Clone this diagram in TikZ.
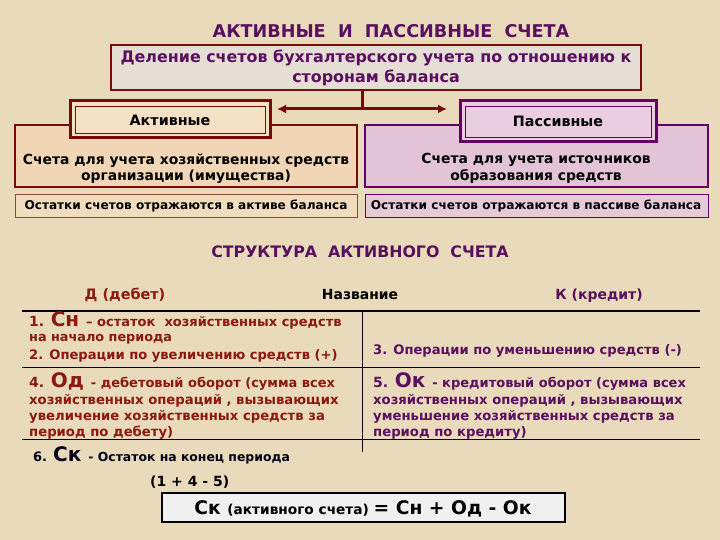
\documentclass[tikz,border=0pt]{standalone}
\usepackage{fontspec}
\setmainfont{DejaVu Sans}
\usetikzlibrary{arrows.meta}
\definecolor{bg}{RGB}{232,218,186}
\definecolor{dred}{RGB}{120,10,10}
\definecolor{tred}{RGB}{140,25,15}
\definecolor{dpurp}{RGB}{100,0,100}
\definecolor{tpurp}{RGB}{90,15,95}
\definecolor{topfill}{RGB}{228,222,212}
\definecolor{lfill}{RGB}{240,214,180}
\definecolor{lfill2}{RGB}{244,224,196}
\definecolor{rfill}{RGB}{226,196,214}
\definecolor{rfill2}{RGB}{234,206,224}
\definecolor{lbot}{RGB}{242,220,190}
\definecolor{rbot}{RGB}{230,202,216}
\definecolor{brn}{RGB}{130,80,50}
\newcommand{\myfs}[1]{\fontsize{#1}{#1}\selectfont\bfseries}
\tikzset{
  lbl/.style={inner sep=0pt, anchor=base},
  lw/.style={inner sep=0pt, anchor=base west},
  rule/.style={line width=1pt, black},
}
\begin{document}
\begin{tikzpicture}[x=1pt,y=-1pt]
\useasboundingbox (0,0) rectangle (720,540);
\fill[bg] (0,0) rectangle (720,540);

% title
\node[lbl, text=tpurp, font=\myfs{17.6}] (title) at (391,38) {АКТИВНЫЕ\ \ И\ \ ПАССИВНЫЕ\ \ СЧЕТА};

% top box
\draw[dred, line width=2pt, fill=topfill] (111,45) rectangle (641,90);
\node[lbl, text=tpurp, font=\myfs{15.9}] (top1) at (376,63) {Деление счетов бухгалтерского учета по отношению к};
\node[lbl, text=tpurp, font=\myfs{15.9}] (top2) at (376,83) {сторонам баланса};
\coordinate (topS) at (362,90);
\coordinate (arrM) at (362,109);
\coordinate (arrL) at (277,109);
\coordinate (arrR) at (447,109);
\draw[dred, line width=3pt] (topS) -- (arrM);
\draw[dred, line width=3pt, {Latex[length=9pt,width=9pt]}-{Latex[length=9pt,width=9pt]}] (arrL) -- (arrR);

% left big box
\draw[dred, line width=2pt, fill=lfill] (15,125) rectangle (357,187);
\node[lbl, text=black, font=\myfs{13.9}] (l1) at (186,165) {Счета для учета хозяйственных средств};
\node[lbl, text=black, font=\myfs{13.9}] (l2) at (186,181) {организации (имущества)};
% Активные
\draw[dred, line width=3pt, fill=lfill2] (70,101) rectangle (270,138);
\draw[dred, line width=0.8pt] (75,106) rectangle (265,133);
\node[lbl, text=black, font=\myfs{14.3}] (akt) at (170,126) {Активные};
% left bottom
\draw[brn, line width=0.8pt, fill=lbot] (15,194) rectangle (357,217);
\node[lbl, text=black, font=\myfs{12.1}] (lb) at (186,210) {Остатки счетов отражаются в активе баланса};

% right big box
\draw[dpurp, line width=2pt, fill=rfill] (365,125) rectangle (708,187);
\node[lbl, text=black, font=\myfs{13.9}] (r1) at (536,164) {Счета для учета источников};
\node[lbl, text=black, font=\myfs{13.9}] (r2) at (536,181) {образования средств};
% Пассивные
\draw[dpurp, line width=3pt, fill=rfill2] (460,101) rectangle (656,142);
\draw[dpurp, line width=0.8pt] (465,106) rectangle (651,137);
\node[lbl, text=black, font=\myfs{14.3}] (pas) at (558,127) {Пассивные};
% right bottom
\draw[dpurp, line width=0.8pt, fill=rbot] (365,194) rectangle (708,217);
\node[lbl, text=black, font=\myfs{12.1}] (rb) at (536,210) {Остатки счетов отражаются в пассиве баланса};

% structure
\node[lbl, text=tpurp, font=\myfs{15.8}] (st) at (360,258) {СТРУКТУРА\ \ АКТИВНОГО\ \ СЧЕТА};
\node[lbl, text=tred, font=\myfs{14.4}] (deb) at (125,299) {Д (дебет)};
\node[lbl, text=black, font=\myfs{13.9}] (naz) at (360,299) {Название};
\node[lbl, text=tpurp, font=\myfs{14}] (kr) at (599,299) {К (кредит)};

\coordinate (h1L) at (22,311); \coordinate (h1R) at (700,311);
\coordinate (h2L) at (22,367); \coordinate (h2R) at (700,367);
\coordinate (h3L) at (22,439); \coordinate (h3R) at (700,439);
\coordinate (vT) at (362,311); \coordinate (vB) at (362,452);
\draw[black, line width=2.5pt] (h1L) -- (h1R);
\draw[rule] (h2L) -- (h2R);
\draw[rule] (h3L) -- (h3R);
\draw[rule] (vT) -- (vB);

\node[lw, text=tred] (c1) at (29,326) {\myfs{14}1. \myfs{20}Сн \myfs{13}– остаток\ \ хозяйственных средств};
\node[lw, text=tred, font=\myfs{12.8}] (c1b) at (29,341.5) {на начало периода};
\node[lw, text=tred, font=\myfs{13.1}] (c2) at (29,359) {2. Операции по увеличению средств (+)};
\node[lw, text=tpurp, font=\myfs{13.1}] (c3) at (373,354) {3. Операции по уменьшению средств (-)};

\node[lw, text=tred] (c4) at (29,387) {\myfs{14}4. \myfs{20}Од \myfs{13}- дебетовый оборот (сумма всех};
\node[lw, text=tred, font=\myfs{13.2}] (c4b) at (29,404) {хозяйственных операций , вызывающих};
\node[lw, text=tred, font=\myfs{13.2}] (c4c) at (29,420) {увеличение хозяйственных средств за};
\node[lw, text=tred, font=\myfs{13.2}] (c4d) at (29,436) {период по дебету)};

\node[lw, text=tpurp] (c5) at (373,387) {\myfs{14}5. \myfs{20}Ок \myfs{13}- кредитовый оборот (сумма всех};
\node[lw, text=tpurp, font=\myfs{13.2}] (c5b) at (373,404) {хозяйственных операций , вызывающих};
\node[lw, text=tpurp, font=\myfs{13.2}] (c5c) at (373,420) {уменьшение хозяйственных средств за};
\node[lw, text=tpurp, font=\myfs{13.2}] (c5d) at (373,436) {период по кредиту)};

\node[lw, text=black!90!blue] (c6) at (33,461) {\myfs{13}6. \myfs{20}Ск \myfs{12.4}- Остаток на конец периода};
\node[lw, text=black, font=\myfs{14}] (calc) at (150,486) {(1 + 4 - 5)};

\draw[black, line width=2pt, fill=white!94!black] (162,493) rectangle (565,522);
\node[lbl, text=black] (form) at (363,514) {\myfs{18.7}Ск \myfs{13.7}(активного счета) \myfs{18.7}= Сн + Од - Ок};
\end{tikzpicture}
\end{document}
